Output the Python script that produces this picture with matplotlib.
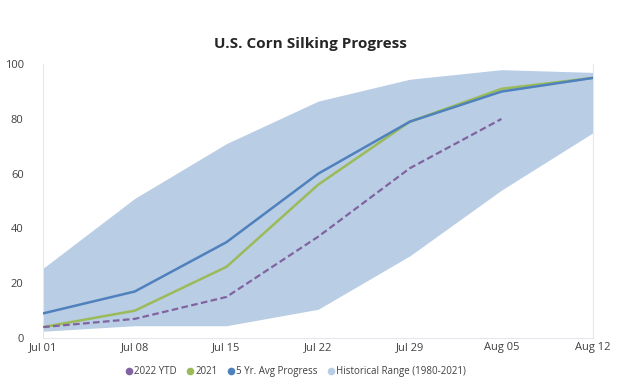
import matplotlib
matplotlib.use("Agg")
import matplotlib.pyplot as plt
from matplotlib.lines import Line2D

weeks = ["Jul 01", "Jul 08", "Jul 15", "Jul 22", "Jul 29", "Aug 05", "Aug 12"]
range_low = [2.5, 4.5, 4.5, 10.5, 30, 54, 75]
range_high = [25.5, 51, 71, 86.5, 94.5, 98, 97]
avg5 = [9, 17, 35, 60, 79, 90, 95]
y2021 = [4, 10, 26, 56, 79, 91, 95]
y2022 = [4, 7, 15, 37, 62, 80]

plt.rcParams['font.family'] = ['Open Sans', 'DejaVu Sans']

fig = plt.figure(figsize=(6.25, 3.89), dpi=100)
ax = fig.add_axes([0.069, 0.131, 0.88, 0.704])

x = list(range(len(weeks)))
band_c = "#b9cde5"
ax.fill_between(x, range_low, range_high, color=band_c, linewidth=0, zorder=1)
ax.plot(x, avg5, color="#4f81bd", lw=1.8, zorder=3)
ax.plot(x, y2021, color="#9bbb59", lw=1.8, zorder=2)
ax.plot(x[:len(y2022)], y2022, color="#8064a2", lw=1.6, ls=(0, (3, 1.5)), zorder=4)

ax.set_xlim(0, len(weeks) - 1)
ax.set_ylim(0, 100)
ax.set_xticks(x)
ax.set_xticklabels(weeks, fontsize=8, color="#404040")
ax.set_yticks([0, 20, 40, 60, 80, 100])
ax.tick_params(axis='y', labelsize=8, labelcolor="#404040", length=0, pad=14)
ax.tick_params(axis='x', length=0, pad=3)
for s in ["top"]:
    ax.spines[s].set_visible(False)
for s in ["left", "bottom", "right"]:
    ax.spines[s].set_color("#e4e8ee")
    ax.spines[s].set_linewidth(0.8)

fig.text(0.497, 0.888, "U.S. Corn Silking Progress", ha="center", va="center",
         fontsize=11, fontweight="bold", color="#262626")

handles = [
    Line2D([], [], marker='o', ls='', color="#8064a2", markersize=4.5),
    Line2D([], [], marker='o', ls='', color="#9bbb59", markersize=4.5),
    Line2D([], [], marker='o', ls='', color="#4f81bd", markersize=4.5),
    Line2D([], [], marker='o', ls='', color=band_c, markersize=4.5),
]
labels = ["2022 YTD", "2021", "5 Yr. Avg Progress", "Historical Range (1980-2021)"]
fig.legend(handles, labels, loc="center", bbox_to_anchor=(0.472, 0.045), ncol=4,
           frameon=False, fontsize=7, handletextpad=0.0, columnspacing=0.9,
           handlelength=1.0, labelcolor="#404040")

fig.savefig("out.png", dpi=100)
